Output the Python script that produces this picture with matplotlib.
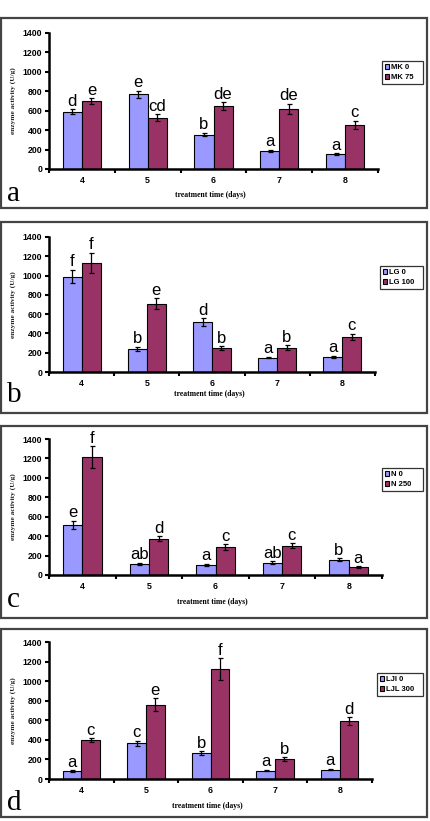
import matplotlib
matplotlib.use("Agg")
import numpy as np
from matplotlib import pyplot as plt
from matplotlib.patches import Rectangle

days = ["4", "5", "6", "7", "8"]

# panel a
a_names = ["MK 0", "MK 75"]
a_low = [590, 770, 355, 190, 150]
a_low_err = [25, 35, 20, 10, 10]
a_high = [700, 530, 645, 620, 455]
a_high_err = [30, 35, 40, 50, 40]
a_low_sig = ["d", "e", "b", "a", "a"]
a_high_sig = ["e", "cd", "de", "de", "c"]

# panel b
b_names = ["LG 0", "LG 100"]
b_low = [990, 240, 515, 150, 160]
b_low_err = [70, 20, 40, 10, 10]
b_high = [1130, 710, 245, 250, 365]
b_high_err = [105, 55, 20, 25, 30]
b_low_sig = ["f", "b", "d", "a", "a"]
b_high_sig = ["f", "e", "b", "b", "c"]

# panel c
c_names = ["N 0", "N 250"]
c_low = [515, 115, 105, 125, 155]
c_low_err = [45, 10, 10, 15, 15]
c_high = [1215, 375, 285, 300, 80]
c_high_err = [110, 25, 30, 25, 10]
c_low_sig = ["e", "ab", "a", "ab", "b"]
c_high_sig = ["f", "d", "c", "c", "a"]

# panel d
d_names = ["LJI 0", "LJL 300"]
d_low = [80, 365, 265, 85, 95]
d_low_err = [10, 25, 20, 8, 8]
d_high = [395, 760, 1125, 205, 590]
d_high_err = [20, 65, 110, 20, 40]
d_low_sig = ["a", "c", "b", "a", "a"]
d_high_sig = ["c", "e", "f", "b", "d"]

yticks = [0, 200, 400, 600, 800, 1000, 1200, 1400]

W, H = 430, 821
fig = plt.figure(figsize=(W / 100, H / 100), dpi=100)
fig.patch.set_facecolor("white")

blue = "#9999ff"
maroon = "#993366"


def fx(px):
    return px / W


def fy(py):
    return 1 - py / H


def panel(letter, names, low, low_err, high, high_err, low_sig, high_sig,
          box, ax_px, leg_px, xlab_y, letter_y):
    # outer frame
    fig.patches.append(Rectangle((fx(box[0]), fy(box[3])), fx(box[2] - box[0]),
                                 (box[3] - box[1]) / H, transform=fig.transFigure,
                                 fill=False, edgecolor="#444444", lw=1.6))
    l, r, t, b = ax_px
    ax = fig.add_axes([fx(l), fy(b), fx(r - l), (b - t) / H])
    x = np.arange(len(days))
    w = 0.29
    ax.bar(x - w / 2, low, w, color=blue, edgecolor="black", lw=0.8,
           yerr=low_err, error_kw=dict(ecolor="black", elinewidth=0.9, capsize=1.8, capthick=0.9),
           label=names[0])
    ax.bar(x + w / 2, high, w, color=maroon, edgecolor="black", lw=0.8,
           yerr=high_err, error_kw=dict(ecolor="black", elinewidth=0.9, capsize=1.8, capthick=0.9),
           label=names[1])
    for i in range(len(days)):
        ax.annotate(low_sig[i], (x[i] - w / 2, low[i] + low_err[i]), xytext=(0, 2.5),
                    textcoords="offset points", ha="center", va="baseline",
                    fontsize=12, family="Liberation Sans")
        ax.annotate(high_sig[i], (x[i] + w / 2, high[i] + high_err[i]), xytext=(0, 2.5),
                    textcoords="offset points", ha="center", va="baseline",
                    fontsize=12, family="Liberation Sans")
    ax.set_xlim(-0.5, len(days) - 0.5)
    ax.set_ylim(0, 1400)
    ax.set_yticks(yticks)
    ax.set_yticklabels([str(v) for v in yticks], fontsize=6.3, fontweight="bold",
                       family="Liberation Sans")
    ax.set_xticks(np.arange(-0.5, len(days), 1.0))
    ax.set_xticklabels([])
    ax.set_xticks(x, minor=True)
    ax.set_xticklabels(days, minor=True, fontsize=6.3, fontweight="bold",
                       family="Liberation Sans")
    ax.tick_params(axis="x", which="minor", length=0, pad=5)
    ax.tick_params(axis="both", which="major", direction="out", length=3, width=1.5)
    ax.tick_params(axis="y", pad=2)
    for s in ["top", "right"]:
        ax.spines[s].set_visible(False)
    for s in ["left", "bottom"]:
        ax.spines[s].set_linewidth(1.8)
    ax.set_facecolor("white")

    fig.text(fx(13), fy((t + b) / 2), "enzyme activity (U/g)", rotation=90,
             ha="center", va="center", fontsize=5.3, fontweight="bold",
             family="Liberation Serif", color="#222222")
    fig.text(fx((l + r) / 2 - 3), fy(xlab_y), "treatment time (days)",
             ha="center", va="center", fontsize=5.5, fontweight="bold",
             family="Liberation Serif")
    fig.text(fx(7), fy(letter_y), letter, ha="left", va="baseline",
             fontsize=21, family="Liberation Serif")

    lx0, ly0, lx1, ly1 = leg_px
    leg = ax.legend(loc="upper left", bbox_to_anchor=(fx(lx0), fy(ly0), fx(lx1 - lx0), (ly1 - ly0) / H),
                    bbox_transform=fig.transFigure, mode="expand",
                    prop=dict(family="Liberation Sans", weight="bold", size=5.5),
                    frameon=True, fancybox=False, edgecolor="black", borderpad=0.35,
                    handlelength=0.6, handleheight=0.6, handletextpad=0.2,
                    labelspacing=0.45, borderaxespad=0)
    leg.get_frame().set_linewidth(0.9)
    return ax


panel("a", a_names, a_low, a_low_err, a_high, a_high_err, a_low_sig, a_high_sig,
      (1, 18, 427, 208), (49, 378, 33, 169), (382, 87, 423, 113), 195, 201)
panel("b", b_names, b_low, b_low_err, b_high, b_high_err, b_low_sig, b_high_sig,
      (1, 222, 427, 413), (49, 375, 237, 372), (380, 292, 423, 318), 394, 402)
panel("c", c_names, c_low, c_low_err, c_high, c_high_err, c_low_sig, c_high_sig,
      (1, 426, 427, 618), (49, 382, 439, 575), (382, 495, 423, 522), 602, 607)
panel("d", d_names, d_low, d_low_err, d_high, d_high_err, d_low_sig, d_high_sig,
      (1, 629, 427, 817), (49, 372, 642, 779), (377, 698, 423, 723), 806, 810)

fig.savefig("out.png", dpi=100)
